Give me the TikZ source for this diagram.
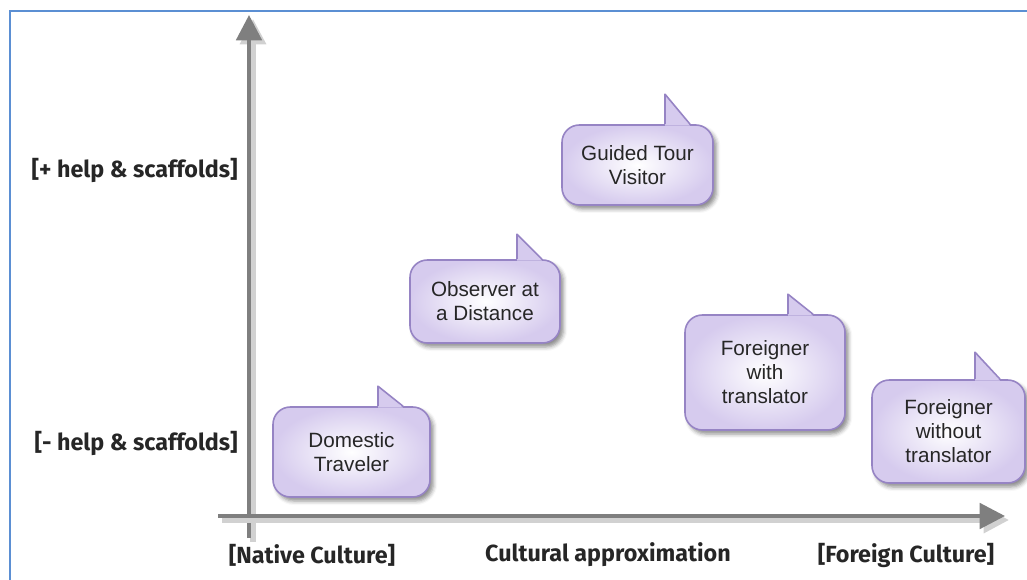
\documentclass[tikz,border=0pt]{standalone}
\usepackage{fontspec}
\setmainfont{Liberation Sans}
\newfontfamily\labelfont{Fira Sans}
\usetikzlibrary{arrows.meta,calc,shadows.blur}

\definecolor{frameblue}{RGB}{91,143,211}
\definecolor{axisgray}{RGB}{127,127,127}
\definecolor{bubedge}{RGB}{150,132,196}
\definecolor{bubfill}{RGB}{214,203,238}

\tikzset{
  axis/.style={draw=axisgray, line width=3, -{Triangle[width=19,length=19]},
    preaction={draw=black!18, line width=4, transform canvas={shift={(3pt,-3pt)}}}},
  axlabel/.style={font=\labelfont\bfseries\fontsize{17.5}{20}\selectfont, text=black!85, inner sep=0},
  bubble/.style 2 args={rectangle, rounded corners=13, draw=bubedge, line width=1.2,
    inner color=white, outer color=bubfill,
    blur shadow={shadow xshift=2.5pt, shadow yshift=-3pt, shadow blur radius=3pt, shadow opacity=45},
    align=center, font=\fontsize{15.5}{18}\selectfont, text=black!85,
    inner sep=0, minimum width=#1*0.75pt, minimum height=#2*0.75pt},
  tailedge/.style={draw=bubedge, line width=1.2, line join=round}
}

% tail on top of node #1, at x offset #2 from its top, #3 high
\newcommand{\tail}[3]{%
  \fill[bubfill] ($(#1.north)+(#2,1.5)$) -- ($(#1.north)+(#2,-#3)$) -- ($(#1.north)+(#2+25,1.5)$) -- cycle;
  \draw[tailedge] ($(#1.north)+(#2,0)$) -- ($(#1.north)+(#2,-#3)$) -- ($(#1.north)+(#2+25,0)$);}

\begin{document}
\begin{tikzpicture}[x=0.75pt,y=-0.75pt]
  \useasboundingbox (0,0) rectangle (1027,580);
  \draw[frameblue, line width=1.6] (1027,11) -- (10,11) -- (10,580);

  % axes
  \coordinate (ybot) at (249,538);
  \coordinate (ytop) at (249,15);
  \coordinate (xleft) at (218,516);
  \coordinate (xright) at (1005,516);
  \draw[axis] (ybot) -- (ytop);
  \draw[axis] (xleft) -- (xright);

  \node[axlabel, anchor=east] (more) at (238,170) {[+ help \& scaffolds]};
  \node[axlabel, anchor=east] (less) at (238,443) {[- help \& scaffolds]};
  \node[axlabel] (native) at (312,555) {[Native Culture]};
  \node[axlabel] (approx) at (608,555) {Cultural approximation};
  \node[axlabel] (foreign) at (906,555) {[Foreign Culture]};

  % travellers
  \node[bubble={157}{90}] (domestic) at (351.5,452) {Domestic\\Traveler};
  \node[bubble={150}{83}] (observer) at (485,301.5) {Observer at\\a Distance};
  \node[bubble={151}{80}] (guided) at (637.5,165) {Guided Tour\\Visitor};
  \node[bubble={160}{115}] (withtr) at (765,372.5) {Foreigner\\with\\translator};
  \node[bubble={153}{103}] (withouttr) at (948.5,431.5) {Foreigner\\without\\translator};

  \tail{domestic}{26.5}{20}
  \tail{observer}{32}{25}
  \tail{guided}{27.5}{30}
  \tail{withtr}{23}{20}
  \tail{withouttr}{26.5}{27}
\end{tikzpicture}
\end{document}
